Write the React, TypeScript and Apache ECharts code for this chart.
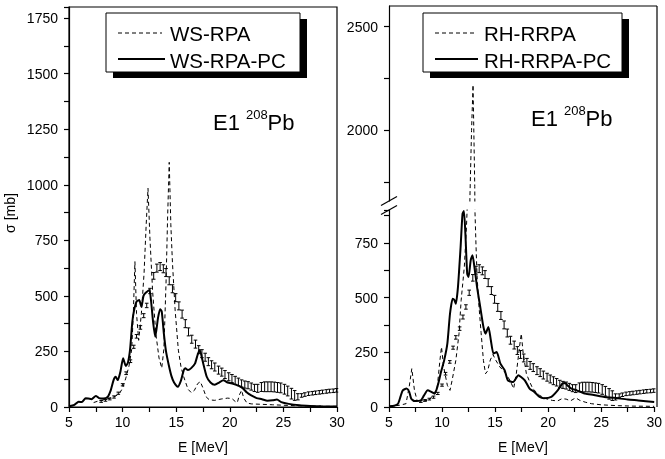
import React, { useEffect, useRef } from 'react';
import * as echarts from 'echarts';

const FONT = '"Liberation Sans", Arial, Helvetica, sans-serif';

// Left panel: WS-RPA (dashed) and WS-RPA-PC (solid), [E (MeV), sigma (mb)]
const wsRpa: [number, number][] = [
  [7.3, 20], [7.8, 28], [8.3, 33], [8.8, 40], [9.3, 48], [9.7, 60], [10.0, 85], [10.3, 130],
  [10.6, 185], [10.85, 260], [11.0, 420], [11.15, 654], [11.3, 420], [11.5, 300], [11.75, 420],
  [12.0, 600], [12.2, 820], [12.37, 984], [12.55, 760], [12.8, 520], [13.1, 330], [13.4, 220],
  [13.65, 175], [13.85, 260], [14.05, 556], [14.2, 856], [14.35, 1101], [14.5, 820], [14.65, 650],
  [14.9, 436], [15.2, 256], [15.45, 180], [15.7, 136], [16.1, 80], [16.4, 65], [16.7, 75],
  [17.0, 105], [17.25, 114], [17.5, 85], [17.8, 45], [18.1, 32], [18.6, 30], [19.2, 36],
  [19.8, 40], [20.2, 38], [20.5, 25], [20.7, 20], [20.9, 55], [21.1, 75], [21.3, 40], [21.6, 18],
  [22.0, 14], [23.0, 12], [24.0, 10], [25.0, 8], [26.0, 6], [27.0, 5], [28.0, 4], [29.0, 3], [30.0, 3],
];
const wsRpaPc: [number, number][] = [
  [5.0, 3], [5.5, 10], [5.9, 24], [6.2, 22], [6.55, 39], [6.8, 38], [7.1, 35], [7.5, 50], [7.8, 40],
  [8.2, 38], [8.6, 45], [8.9, 76], [9.15, 120], [9.35, 136], [9.55, 121], [9.8, 160], [10.05, 219],
  [10.3, 185], [10.5, 200], [10.7, 260], [10.9, 380], [11.05, 430], [11.3, 474], [11.55, 481],
  [11.75, 451], [11.95, 500], [12.1, 511], [12.3, 520], [12.5, 526], [12.65, 480], [12.85, 380],
  [13.05, 316], [13.3, 400], [13.5, 440], [13.65, 430], [13.85, 330], [14.05, 250], [14.3, 190],
  [14.55, 140], [14.8, 110], [15.15, 91], [15.45, 120], [15.7, 165], [15.85, 174], [16.1, 166],
  [16.4, 175], [16.75, 195], [17.0, 235], [17.2, 256], [17.45, 210], [17.85, 136], [18.2, 110],
  [18.6, 100], [19.0, 110], [19.4, 120], [19.8, 110], [20.3, 104], [20.8, 96], [21.2, 85],
  [21.6, 65], [22.0, 52], [22.5, 40], [23.0, 35], [23.5, 28], [24.0, 30], [24.4, 34], [24.8, 22],
  [25.5, 14], [26.5, 8], [27.5, 5], [28.5, 3], [30.0, 2],
];

// Right panel: RH-RRPA (dashed) and RH-RRPA-PC (solid)
const rhRrpa: [number, number][] = [
  [5.0, 2], [6.0, 8], [6.6, 15], [6.9, 91], [7.15, 175], [7.4, 76], [7.65, 30], [8.2, 27], [8.8, 32],
  [9.25, 61], [9.55, 91], [9.8, 213], [9.95, 274], [10.15, 183], [10.5, 99], [10.75, 76],
  [10.95, 122], [11.3, 213], [11.6, 335], [11.8, 487], [12.1, 640], [12.3, 822], [12.38, 920],
  [12.55, 1680], [12.7, 2000], [12.84, 2220], [13.0, 1730], [13.1, 900], [13.2, 740], [13.3, 600],
  [13.45, 480], [13.68, 340], [13.9, 213], [14.1, 152], [14.3, 165], [14.55, 215], [14.8, 240],
  [15.05, 215], [15.45, 183], [15.9, 160], [16.4, 122], [16.75, 84], [17.0, 152], [17.3, 274],
  [17.47, 335], [17.65, 244], [17.95, 152], [18.2, 122], [18.55, 84], [19.2, 53], [19.8, 38],
  [20.4, 30], [20.9, 28], [21.3, 38], [21.7, 36], [22.1, 28], [22.6, 42], [23.0, 30], [23.5, 22],
  [24.1, 15], [25.0, 10], [26.6, 6], [28.0, 4], [30.0, 3],
];
const rhRrpaPc: [number, number][] = [
  [5.0, 3], [5.5, 6], [5.85, 15], [6.1, 50], [6.3, 76], [6.65, 84], [6.9, 70], [7.1, 38], [7.4, 27],
  [8.0, 30], [8.3, 53], [8.65, 76], [8.95, 70], [9.3, 61], [9.6, 99], [9.9, 160], [10.2, 213],
  [10.5, 289], [10.75, 426], [11.0, 495], [11.15, 490], [11.3, 472], [11.5, 548], [11.75, 731],
  [11.93, 883], [12.06, 895], [12.2, 792], [12.37, 609], [12.5, 594], [12.7, 670], [12.87, 693],
  [13.05, 640], [13.3, 548], [13.6, 457], [13.9, 366], [14.1, 335], [14.37, 366], [14.6, 305],
  [14.85, 244], [15.15, 251], [15.5, 198], [15.9, 168], [16.2, 122], [16.7, 114], [17.2, 145],
  [17.45, 137], [17.8, 122], [18.25, 84], [18.7, 69], [19.2, 46], [19.6, 40], [20.3, 46],
  [20.9, 76], [21.35, 107], [21.6, 110], [21.8, 99], [22.2, 84], [22.7, 76], [23.5, 61],
  [24.3, 55], [25.3, 46], [26.2, 42], [27.5, 34], [28.5, 30], [30.0, 23],
];

// Experimental data: [E, sigma, error]
const expData: [number, number, number][] = [
  [8.0, 25, 4], [8.4, 30, 4], [8.8, 36, 4], [9.2, 45, 5], [9.6, 62, 5], [10.0, 100, 5],
  [10.33, 152, 6], [10.73, 206, 6], [11.04, 271, 7], [11.3, 318, 8], [11.66, 358, 8],
  [11.97, 411, 9], [12.25, 457, 10], [12.56, 522, 12], [12.9, 590, 15], [13.2, 625, 18],
  [13.5, 632, 18], [13.8, 622, 18], [14.05, 605, 18], [14.35, 568, 18], [14.65, 532, 18],
  [14.95, 492, 18], [15.25, 455, 18], [15.55, 418, 18], [15.85, 375, 18], [16.15, 338, 18],
  [16.45, 305, 18], [16.8, 283, 18], [17.1, 258, 18], [17.4, 240, 18], [17.7, 224, 18],
  [18.0, 204, 18], [18.3, 190, 18], [18.6, 180, 18], [18.95, 166, 18], [19.25, 157, 18],
  [19.55, 146, 18], [19.9, 136, 18], [20.2, 128, 18], [20.5, 120, 18], [20.8, 113, 17],
  [21.1, 106, 16], [21.4, 101, 16], [21.7, 98, 16], [22.0, 92, 16], [22.3, 86, 16], [22.6, 84, 18],
  [22.95, 90, 20], [23.25, 91, 22], [23.55, 91, 22], [23.85, 91, 22], [24.15, 90, 22],
  [24.45, 88, 22], [24.75, 86, 22], [25.1, 80, 22], [25.4, 72, 22], [25.75, 60, 24],
  [26.05, 52, 22], [26.35, 46, 14], [26.7, 52, 8], [27.0, 56, 8], [27.35, 60, 8], [27.7, 62, 8],
  [28.0, 64, 8], [28.35, 66, 8], [28.65, 68, 8], [29.0, 70, 8], [29.3, 72, 8], [29.65, 73, 8],
  [29.95, 75, 8],
];

const legendLeft = ['WS-RPA', 'WS-RPA-PC'];
const legendRight = ['RH-RRPA', 'RH-RRPA-PC'];
const xName = 'E [MeV]';
const yName = 'σ [mb]';
const upperTicks = [1750, 2000, 2250, 2500];
const upperLabels = [2000, 2500];

export default function App() {
  const ref = useRef<HTMLDivElement>(null);
  useEffect(() => {
    const chart = echarts.init(ref.current as HTMLDivElement, undefined, { renderer: 'svg' });
    const txt = { color: '#000', fontSize: 14, fontFamily: FONT };
    const axisLine = { show: true, lineStyle: { color: '#000', width: 1.2 } };
    const tick = { show: true, inside: false, length: 5, lineStyle: { color: '#000', width: 1.2 } };
    const xAxis = (gridIndex: number, show: boolean) => ({
      type: 'value', gridIndex, min: 5, max: 30, interval: 2.5, show,
      axisLine, axisTick: tick, splitLine: { show: false },
      axisLabel: { ...txt, margin: 8, formatter: (v: number) => (v % 5 === 0 ? String(v) : '') },
    });
    const errSeries = (xi: number, yi: number) => ({
      type: 'custom', xAxisIndex: xi, yAxisIndex: yi, data: expData, silent: true,
      encode: { x: 0, y: 1 },
      renderItem: (_p: any, api: any) => {
        const x = api.value(0), y = api.value(1), e = api.value(2);
        const t = api.coord([x, y + e]);
        const b = api.coord([x, y - e]);
        const w = 1.8;
        const st = { stroke: '#000', lineWidth: 1 };
        return {
          type: 'group', children: [
            { type: 'line', shape: { x1: t[0], y1: t[1], x2: b[0], y2: b[1] }, style: st },
            { type: 'line', shape: { x1: t[0] - w, y1: t[1], x2: t[0] + w, y2: t[1] }, style: st },
            { type: 'line', shape: { x1: b[0] - w, y1: b[1], x2: b[0] + w, y2: b[1] }, style: st },
          ],
        };
      },
    });
    const dashed = { color: '#000', width: 1, type: [4, 3] as any };
    const solid = { color: '#000', width: 2 };
    const lineS = (data: [number, number][], xi: number, yi: number, ls: any, smooth = false) => ({
      type: 'line', xAxisIndex: xi, yAxisIndex: yi, data, showSymbol: false, symbol: 'none',
      smooth: smooth ? 0.2 : false, lineStyle: ls, silent: true, z: 3,
    });
    const legend = (x: number, y: number, w: number, h: number, labels: string[], ex1: number, ex2: number, tx: number) => [
      { type: 'rect', shape: { x: x + 7, y: y + 6, width: w, height: h }, style: { fill: '#000' }, z: 10 },
      { type: 'rect', shape: { x, y, width: w, height: h }, style: { fill: '#fff', stroke: '#000', lineWidth: 1 }, z: 11 },
      { type: 'line', shape: { x1: x + 12, y1: y + 20, x2: ex1, y2: y + 20 }, style: { stroke: '#000', lineWidth: 1, lineDash: [4, 3] }, z: 12 },
      { type: 'line', shape: { x1: x + 12, y1: y + 46, x2: ex2, y2: y + 46 }, style: { stroke: '#000', lineWidth: 2 }, z: 12 },
      { type: 'text', x: tx, y: y + 20, style: { text: labels[0], fontSize: 20.5, fontFamily: FONT, fill: '#000', textAlign: 'left', textVerticalAlign: 'middle' }, z: 12 },
      { type: 'text', x: tx, y: y + 47, style: { text: labels[1], fontSize: 20.5, fontFamily: FONT, fill: '#000', textAlign: 'left', textVerticalAlign: 'middle' }, z: 12 },
    ];
    const e1 = (x: number, y: number) => [
      { type: 'text', x, y, style: { text: 'E1', fontSize: 22, fontFamily: FONT, fill: '#000', textVerticalAlign: 'middle' }, z: 12 },
      { type: 'text', x: x + 33, y: y - 8, style: { text: '208', fontSize: 13, fontFamily: FONT, fill: '#000', textVerticalAlign: 'middle' }, z: 12 },
      { type: 'text', x: x + 54.5, y, style: { text: 'Pb', fontSize: 22, fontFamily: FONT, fill: '#000', textVerticalAlign: 'middle' }, z: 12 },
    ];
    const frameSt = { stroke: '#000', lineWidth: 1.2 };
    const option: any = {
      animation: false,
      grid: [
        { left: 69, top: 7, width: 268, height: 400, show: true, borderColor: '#000', borderWidth: 1.2 },
        { left: 389, top: 6, width: 268, height: 195 },
        { left: 389, top: 210, width: 268, height: 197 },
      ],
      xAxis: [xAxis(0, true), xAxis(1, false), xAxis(2, true)],
      yAxis: [
        {
          type: 'value', gridIndex: 0, min: 0, max: 1800, interval: 125, axisLine, axisTick: tick,
          splitLine: { show: false },
          axisLabel: { ...txt, margin: 11, formatter: (v: number) => (v % 250 === 0 ? String(v) : '') },
        },
        {
          type: 'value', gridIndex: 1, min: 1660, max: 2600, axisLine,
          axisTick: { ...tick, customValues: upperTicks }, splitLine: { show: false },
          axisLabel: { ...txt, margin: 11, customValues: upperLabels, formatter: (v: number) => String(v) },
        },
        {
          type: 'value', gridIndex: 2, min: 0, max: 900, interval: 125, axisLine, axisTick: tick,
          splitLine: { show: false },
          axisLabel: { ...txt, margin: 11, formatter: (v: number) => (v % 250 === 0 ? String(v) : '') },
        },
      ],
      series: [
        errSeries(0, 0),
        lineS(wsRpa, 0, 0, dashed),
        lineS(wsRpaPc, 0, 0, solid, true),
        errSeries(2, 2),
        lineS(rhRrpa, 2, 2, dashed),
        lineS(rhRrpa, 1, 1, dashed),
        lineS(rhRrpaPc, 2, 2, solid, true),
      ],
      graphic: [
        { type: 'line', shape: { x1: 389, y1: 6, x2: 657, y2: 6 }, style: frameSt, z: 5 },
        { type: 'line', shape: { x1: 657, y1: 6, x2: 657, y2: 407 }, style: frameSt, z: 5 },
        { type: 'line', shape: { x1: 381, y1: 205.5, x2: 397, y2: 196.5 }, style: frameSt, z: 5 },
        { type: 'line', shape: { x1: 381, y1: 214.5, x2: 397, y2: 205.5 }, style: frameSt, z: 5 },
        ...legend(106, 13, 194, 59, legendLeft, 162, 165, 170),
        ...legend(423, 13, 199, 59, legendRight, 474, 478, 484),
        ...e1(213, 122.5),
        ...e1(531, 118),
        { type: 'text', x: 203, y: 447, style: { text: xName, fontSize: 14, fontFamily: FONT, fill: '#000', textAlign: 'center', textVerticalAlign: 'middle' } },
        { type: 'text', x: 523, y: 447, style: { text: xName, fontSize: 14, fontFamily: FONT, fill: '#000', textAlign: 'center', textVerticalAlign: 'middle' } },
        { type: 'text', x: 10, y: 213, rotation: Math.PI / 2, style: { text: yName, fontSize: 14, fontFamily: FONT, fill: '#000', textAlign: 'center', textVerticalAlign: 'middle' } },
      ],
    };
    chart.setOption(option);
    return () => chart.dispose();
  }, []);
  return <div ref={ref} style={{ position: 'fixed', left: 0, top: 0, width: 665, height: 459 }} />;
}
